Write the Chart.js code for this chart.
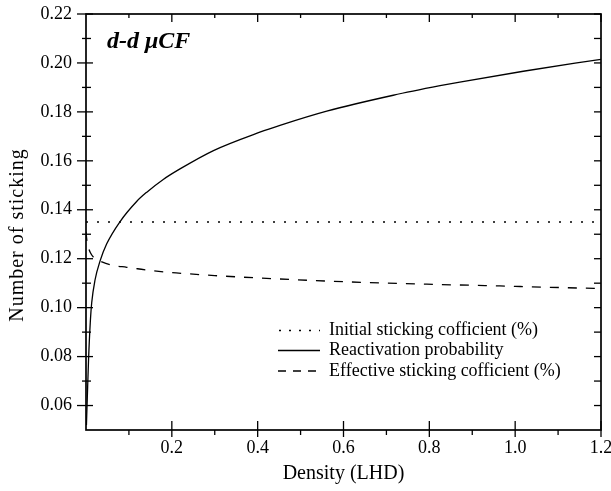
<!DOCTYPE html>
<html><head><meta charset="utf-8">
<script src="https://cdn.jsdelivr.net/npm/chart.js@4.4.1/dist/chart.umd.min.js"></script>
<style>html,body{margin:0;padding:0;background:#fff}#wrap{position:relative;width:611px;height:491px}</style>
</head><body><div id="wrap"><canvas id="c" width="611" height="491"></canvas></div>
<script>
// ---- data ----
const seriesNames = ["Initial sticking cofficient (%)", "Reactivation probability", "Effective sticking cofficient (%)"];
const initialX = [0, 1.2];
const initialY = [0.135, 0.135];
const reactX = [0.001,0.003,0.006,0.010,0.0133,0.021,0.033,0.048,0.079,0.118,0.141,0.180,0.219,0.297,0.405,0.452,0.561,0.716,0.825,0.871,1.019,1.2];
const reactY = [0.052,0.063,0.079,0.094,0.102,0.1113,0.1192,0.1260,0.1351,0.1434,0.1471,0.1524,0.1567,0.1642,0.1717,0.1745,0.1803,0.1868,0.1907,0.1922,0.1966,0.2015];
const effX = [0,0.002,0.005,0.010,0.021,0.033,0.060,0.095,0.120,0.150,0.210,0.300,0.405,0.600,0.794,1.000,1.151,1.2];
const effY = [0.131,0.1275,0.125,0.1225,0.1200,0.1190,0.1174,0.1165,0.1159,0.1152,0.1142,0.1131,0.1121,0.1106,0.1096,0.1087,0.1080,0.1078];
const xTickLabels = [0.2,0.4,0.6,0.8,1.0,1.2];
const xMinorTicks = [0.1,0.3,0.5,0.7,0.9,1.1];
const yTickLabels = [0.06,0.08,0.10,0.12,0.14,0.16,0.18,0.20,0.22];
const yMinorTicks = [0.07,0.09,0.11,0.13,0.15,0.17,0.19,0.21];
const chartLabel = "d-d \u03BCCF";
const xTitle = "Density (LHD)";
const yTitle = "Number of sticking";

const pts = (xs, ys) => xs.map((v, i) => ({x: v, y: ys[i]}));
const SERIF = '"Liberation Serif", "DejaVu Serif", serif';
Chart.defaults.font.family = SERIF;
Chart.defaults.color = '#000';

const decor = {
  id: 'decor',
  afterDatasetsDraw(chart) {
    const {ctx, chartArea: a, scales: {x, y}} = chart;
    ctx.save();
    ctx.strokeStyle = '#000';
    ctx.fillStyle = '#000';
    ctx.setLineDash([]);
    ctx.lineWidth = 1.7;
    ctx.strokeRect(a.left, a.top, a.right - a.left, a.bottom - a.top);
    ctx.lineWidth = 1.3;
    const seg = (x1, y1, x2, y2) => { ctx.beginPath(); ctx.moveTo(x1, y1); ctx.lineTo(x2, y2); ctx.stroke(); };
    xTickLabels.forEach(v => { const p = x.getPixelForValue(v); seg(p, a.bottom + 7, p, a.bottom - 9); seg(p, a.top, p, a.top + 8); });
    xMinorTicks.forEach(v => { const p = x.getPixelForValue(v); seg(p, a.bottom + 5, p, a.bottom); seg(p, a.top, p, a.top + 4); });
    yTickLabels.forEach(v => { const p = y.getPixelForValue(v); seg(a.left - 9, p, a.left + 7, p); seg(a.right - 7, p, a.right, p); });
    yMinorTicks.forEach(v => { const p = y.getPixelForValue(v); seg(a.left - 4, p, a.left + 5, p); seg(a.right - 7, p, a.right, p); });

    // inner label
    ctx.font = 'bold italic 24px ' + SERIF;
    ctx.textAlign = 'left';
    ctx.textBaseline = 'alphabetic';
    ctx.fillText(chartLabel, 107, 48);

    // legend
    const rowsY = [330.5, 350.5, 371];
    ctx.font = '18px ' + SERIF;
    ctx.textBaseline = 'middle';
    chart.data.datasets.forEach((ds, i) => {
      ctx.lineWidth = 1.3;
      ctx.setLineDash(i === 0 ? [2, 8] : (i === 2 ? [8, 7] : []));
      seg(i === 0 ? 279 : 278, rowsY[i], 320, rowsY[i]);
      ctx.setLineDash([]);
      ctx.fillText(ds.label, 329, rowsY[i]);
    });

    // y title
    ctx.save();
    ctx.translate(18, 235);
    ctx.rotate(-Math.PI / 2);
    ctx.textAlign = 'center';
    ctx.font = '20px ' + SERIF;
    try { ctx.letterSpacing = '1px'; } catch (e) {}
    ctx.fillText(yTitle, 0, 0);
    ctx.restore();
    ctx.restore();
  }
};

new Chart(document.getElementById('c'), {
  type: 'line',
  data: {
    datasets: [
      {label: seriesNames[0], data: pts(initialX, initialY), borderColor: '#000', borderWidth: 1.6, pointRadius: 0, borderDash: [2, 9]},
      {label: seriesNames[1], data: pts(reactX, reactY), borderColor: '#000', borderWidth: 1.3, pointRadius: 0, cubicInterpolationMode: 'monotone'},
      {label: seriesNames[2], data: pts(effX, effY), borderColor: '#000', borderWidth: 1.3, pointRadius: 0, cubicInterpolationMode: 'monotone', borderDash: [9, 9]}
    ]
  },
  options: {
    responsive: false,
    animation: false,
    devicePixelRatio: 1,
    layout: {padding: {left: 0, right: 10, top: 14, bottom: 0}},
    plugins: {legend: {display: false}, tooltip: {enabled: false}},
    scales: {
      x: {
        type: 'linear', min: 0, max: 1.2,
        grid: {display: false, drawTicks: false},
        border: {display: false},
        afterBuildTicks: s => { s.ticks = xTickLabels.map(v => ({value: v})); },
        afterFit: s => { s.height = 61; s.paddingLeft = 0; s.paddingRight = 0; },
        ticks: {padding: 7, font: {size: 18}, color: '#000', maxRotation: 0, callback: v => v.toFixed(1)},
        title: {display: true, text: xTitle, font: {size: 20}, color: '#000', padding: {top: 0, bottom: 5}}
      },
      y: {
        type: 'linear', min: 0.05, max: 0.22,
        grid: {display: false, drawTicks: false},
        border: {display: false},
        afterBuildTicks: s => { s.ticks = yTickLabels.map(v => ({value: v})); },
        afterFit: s => { s.width = 86; s.paddingTop = 0; s.paddingBottom = 0; },
        ticks: {padding: 14, font: {size: 18}, color: '#000', callback: v => v.toFixed(2)}
      }
    }
  },
  plugins: [decor]
});
</script></body></html>
